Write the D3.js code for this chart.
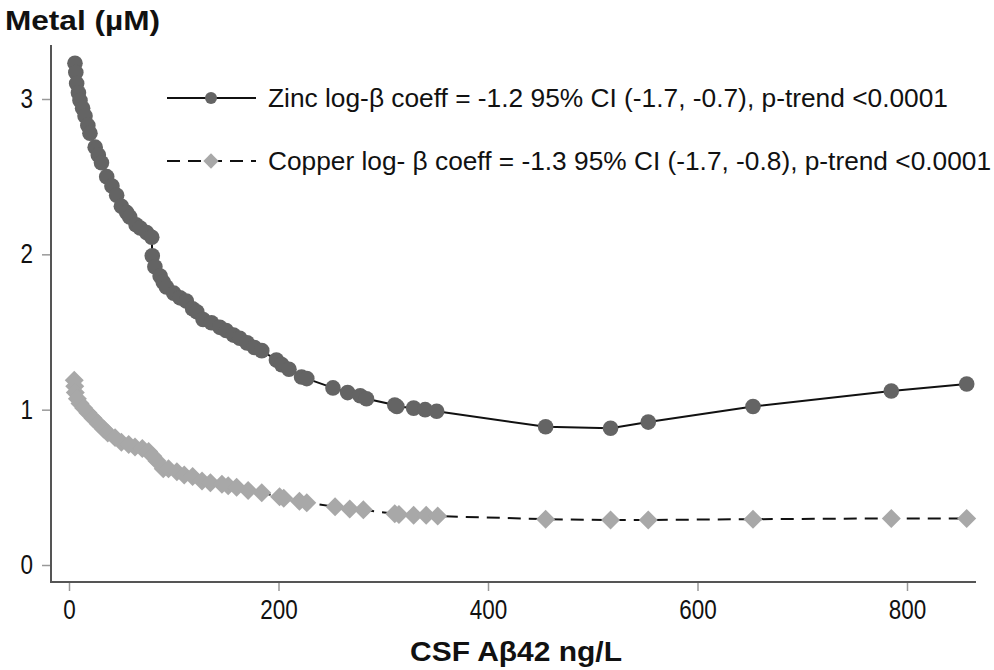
<!DOCTYPE html>
<html>
<head>
<meta charset="utf-8">
<script src="https://cdn.jsdelivr.net/npm/d3@7"></script>
<style>
  body { margin: 0; background: #fff; }
  svg text { font-family: "Liberation Sans Narrow", "Liberation Sans", Arial, sans-serif; fill: #111; }
</style>
</head>
<body>
<svg id="chart" width="994" height="670"></svg>
<script>
// CSF Abeta42 (ng/L) vs zinc (uM)
const zincX = [5.7, 6.5, 7.3, 9, 10.5, 13, 15.3, 18, 20, 25, 28, 31, 36, 41, 45.5, 50, 55, 58, 64, 68, 74, 79,
  79.5, 82, 87, 90, 93, 100, 106, 112, 118, 122, 128, 136, 144, 150, 157, 163, 170, 177, 184, 198, 203, 210,
  222, 227, 252, 266, 278, 284, 311, 313, 329, 340, 351, 455, 517, 553, 653, 785, 857];
const zincY = [3.23, 3.17, 3.10, 3.04, 2.99, 2.94, 2.89, 2.83, 2.78, 2.69, 2.64, 2.59, 2.50, 2.44, 2.38, 2.31, 2.27, 2.24, 2.19, 2.17, 2.14, 2.11,
  1.99, 1.92, 1.86, 1.82, 1.79, 1.75, 1.72, 1.70, 1.65, 1.63, 1.58, 1.56, 1.53, 1.51, 1.48, 1.46, 1.43, 1.40, 1.38, 1.32, 1.29, 1.26,
  1.21, 1.20, 1.14, 1.11, 1.09, 1.07, 1.03, 1.02, 1.01, 1.00, 0.99, 0.89, 0.88, 0.92, 1.02, 1.12, 1.165];

// CSF Abeta42 (ng/L) vs copper (uM)
const copperX = [5, 5.5, 6, 8, 10.5, 14, 18, 23, 28, 33, 37, 44, 50, 57, 63, 70, 76, 80, 84, 90, 95, 103, 110, 118,
  127, 135, 146, 152, 160, 171, 184, 201, 205, 220, 227, 254, 268, 281, 311, 315, 329, 341, 352, 455, 517, 553, 653, 785, 857];
const copperY = [1.19, 1.15, 1.11, 1.07, 1.04, 1.01, 0.98, 0.945, 0.91, 0.875, 0.85, 0.82, 0.79, 0.775, 0.76, 0.75, 0.73, 0.70, 0.67, 0.62, 0.62, 0.60, 0.58, 0.57,
  0.54, 0.53, 0.52, 0.51, 0.50, 0.48, 0.465, 0.44, 0.43, 0.41, 0.40, 0.375, 0.36, 0.355, 0.33, 0.325, 0.32, 0.32, 0.315, 0.295, 0.29, 0.29, 0.295, 0.30, 0.30];

const xTicks = [0, 200, 400, 600, 800];
const yTicks = [0, 1, 2, 3];
const legendLabels = [
  "Zinc log-\u03b2 coeff = -1.2 95% CI (-1.7, -0.7), p-trend <0.0001",
  "Copper log- \u03b2 coeff = -1.3 95% CI (-1.7, -0.8), p-trend <0.0001"
];

const svg = d3.select('#chart');

const x = d3.scaleLinear().domain([0, 800]).range([69, 907]);
const y = d3.scaleLinear().domain([0, 3]).range([565, 99]);

const zinc = zincX.map((d, i) => [d, zincY[i]]);
const copper = copperX.map((d, i) => [d, copperY[i]]);

// axes
const xAxis = svg.append('g').attr('transform', 'translate(0,582)')
  .call(d3.axisBottom(x).tickValues(xTicks).tickSize(9).tickPadding(6).tickSizeOuter(0));
const yAxis = svg.append('g').attr('transform', 'translate(51,0)')
  .call(d3.axisLeft(y).tickValues(yTicks).tickFormat(d3.format('d')).tickSize(9).tickPadding(9).tickSizeOuter(0));
[xAxis, yAxis].forEach(a => {
  a.select('.domain').remove();
  a.selectAll('.tick line').attr('stroke', '#999').attr('stroke-width', 1.5);
  a.selectAll('.tick text').style('font-size', '27px').attr('fill', '#111')
    .attr('textLength', function () { return this.textContent.length * 12.5; })
    .attr('lengthAdjust', 'spacingAndGlyphs');
});
xAxis.selectAll('.tick text').attr('dy', '0.8em');

svg.append('line').attr('x1', 51).attr('x2', 51).attr('y1', 45).attr('y2', 582)
  .attr('stroke', '#555').attr('stroke-width', 2);
svg.append('line').attr('x1', 50).attr('x2', 976).attr('y1', 582).attr('y2', 582)
  .attr('stroke', '#555').attr('stroke-width', 2);

// lines
const line = d3.line().x(d => x(d[0])).y(d => y(d[1]));
svg.append('path').datum(zinc).attr('d', line)
  .attr('fill', 'none').attr('stroke', '#111').attr('stroke-width', 2);
svg.append('path').datum(copper).attr('d', line)
  .attr('fill', 'none').attr('stroke', '#111').attr('stroke-width', 2).attr('stroke-dasharray', '13,8');

// markers
const diamond = d3.symbol().type(d3.symbolDiamond2).size(230);
svg.append('g').selectAll('path').data(copper).join('path')
  .attr('d', diamond)
  .attr('transform', d => `translate(${x(d[0])},${y(d[1])})`)
  .attr('fill', '#a8a8a8');
svg.append('g').selectAll('circle').data(zinc).join('circle')
  .attr('cx', d => x(d[0])).attr('cy', d => y(d[1])).attr('r', 7.8)
  .attr('fill', '#646464');

// legend
const legDiamond = d3.symbol().type(d3.symbolDiamond2).size(150);
const leg = svg.append('g');
[0, 1].forEach(i => {
  const ly = 98 + i * 63;
  leg.append('line').attr('x1', 167).attr('x2', 256).attr('y1', ly).attr('y2', ly)
    .attr('stroke', '#111').attr('stroke-width', 2)
    .attr('stroke-dasharray', i ? '13,8' : null);
  if (i === 0) {
    leg.append('circle').attr('cx', 211).attr('cy', ly).attr('r', 6).attr('fill', '#646464');
  } else {
    leg.append('path').attr('d', legDiamond).attr('transform', `translate(211,${ly})`).attr('fill', '#a8a8a8');
  }
  leg.append('text').attr('x', 268).attr('y', ly + 9)
    .style('font-size', '25px')
    .attr('textLength', i ? 723 : 680).attr('lengthAdjust', 'spacingAndGlyphs')
    .text(legendLabels[i]);
});

// titles
svg.append('text').attr('x', 5).attr('y', 30)
  .style('font-size', '28px').style('font-weight', 'bold')
  .attr('textLength', 155).attr('lengthAdjust', 'spacingAndGlyphs')
  .text('Metal (\u00b5M)');
svg.append('text').attr('x', 410).attr('y', 661)
  .style('font-size', '28px').style('font-weight', 'bold')
  .attr('textLength', 212).attr('lengthAdjust', 'spacingAndGlyphs')
  .text('CSF A\u03b242 ng/L');
</script>
</body>
</html>
